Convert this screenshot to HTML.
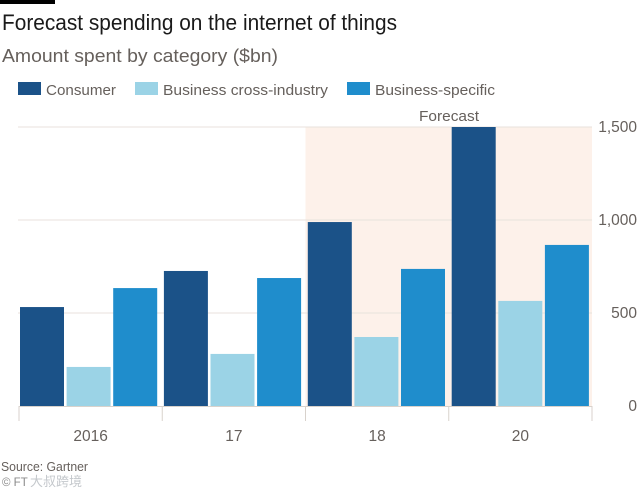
<!DOCTYPE html>
<html>
<head>
<meta charset="utf-8">
<style>
html,body{margin:0;padding:0;background:#fff;width:640px;height:494px;overflow:hidden}
svg{display:block;font-family:"Liberation Sans","Noto Sans CJK SC",sans-serif}
</style>
</head>
<body>
<svg id="chart" width="640" height="494" viewBox="0 0 640 494" xmlns="http://www.w3.org/2000/svg">
<rect x="0" y="0" width="640" height="494" fill="#ffffff"/>
<rect x="0" y="0" width="55" height="4" fill="#000000"/>
<text x="2" y="30" font-size="22" fill="#1a1a1a" textLength="395" lengthAdjust="spacingAndGlyphs">Forecast spending on the internet of things</text>
<text x="2" y="62" font-size="18" fill="#66605c" textLength="276" lengthAdjust="spacingAndGlyphs">Amount spent by category ($bn)</text>
<g id="legend"></g>
<g id="plot"></g>
<text x="419" y="121" font-size="14.5" fill="#66605c" textLength="60" lengthAdjust="spacingAndGlyphs">Forecast</text>
<text x="1" y="471" font-size="12.5" fill="#66605c" textLength="87" lengthAdjust="spacingAndGlyphs">Source: Gartner</text>
<text x="2" y="486" font-size="11.5" fill="#8a8a8a">© FT</text>
<text x="30" y="486" font-size="13" fill="#c4c8cc">大叔跨境</text>
</svg>
<script>
var categories = ['2016', '17', '18', '20'];
var seriesNames = ['Consumer', 'Business cross-industry', 'Business-specific'];
var consumer = [532, 726, 989, 1500];
var crossIndustry = [210, 280, 371, 565];
var businessSpecific = [634, 688, 737, 866];
var yTicks = [0, 500, 1000, 1500];
var yTickLabels = ['0', '500', '1,000', '1,500'];
var forecastStartIndex = 2;

var NS = 'http://www.w3.org/2000/svg';
var plot = document.getElementById('plot');
var legend = document.getElementById('legend');
var colors = ['#1b5288', '#9bd3e6', '#1f8dcc'];
var allSeries = [consumer, crossIndustry, businessSpecific];
var barKeys = ['consumer', 'cross-industry', 'business-specific'];

function yScale(v) { return 406 - v * (279 / 1500); }
function bandStart(i) { return 19 + i * (573 / categories.length); }
var bandStep = 573 / categories.length;
function barX(i, s) { return 20 + i * 143.9 + s * 46.6; }

function make(tag, attrs) {
  var el = document.createElementNS(NS, tag);
  for (var k in attrs) { el.setAttribute(k, attrs[k]); }
  return el;
}

var region = make('rect', {
  x: bandStart(forecastStartIndex), y: yScale(1500),
  width: bandStart(categories.length) - bandStart(forecastStartIndex),
  height: yScale(0) - yScale(1500), fill: '#fdf1ea'
});


plot.appendChild(region);

yTicks.forEach(function (t, i) {
  var y = yScale(t);
  if (t !== 0) {
    var line = make('line', { x1: 18, x2: 592, y1: y, y2: y, stroke: '#e8e2dc', 'stroke-width': 1 });
    
    
    plot.appendChild(line);
  }
  var label = make('text', { x: 637, y: y + 5, 'text-anchor': 'end', 'font-size': 15.5, fill: '#66605c' });
  
  
  label.textContent = yTickLabels[i];
  plot.appendChild(label);
});

categories.forEach(function (c, i) {
  allSeries.forEach(function (values, s) {
    var top = yScale(values[i]);
    var bar = make('rect', { x: barX(i, s), y: top, width: 44, height: yScale(0) - top, fill: colors[s] });
    
    
    plot.appendChild(bar);
  });
  var label = make('text', { x: bandStart(i) + bandStep / 2, y: 441, 'text-anchor': 'middle', 'font-size': 15.5, fill: '#66605c' });
  
  
  label.textContent = c;
  plot.appendChild(label);
});

for (var b = 0; b <= categories.length; b++) {
  var tick = make('line', { x1: bandStart(b), x2: bandStart(b), y1: 406, y2: 421, stroke: '#d8d2cc', 'stroke-width': 1 });
  
  
  plot.appendChild(tick);
}
var axis = make('line', { x1: 19, x2: 592, y1: 406.5, y2: 406.5, stroke: '#d8d2cc', 'stroke-width': 1 });


plot.appendChild(axis);

var legendSwatchX = [18, 135, 347];
var legendTextX = [46, 163, 375];
var legendTextW = [70, 165, 120];
seriesNames.forEach(function (n, i) {
  var sw = make('rect', { x: legendSwatchX[i], y: 82, width: 23, height: 13, fill: colors[i] });
  
  
  legend.appendChild(sw);
  var t = make('text', { x: legendTextX[i], y: 95, 'font-size': 15, fill: '#66605c', textLength: legendTextW[i], lengthAdjust: 'spacingAndGlyphs' });
  
  
  t.textContent = n;
  legend.appendChild(t);
});
</script>
</body>
</html>
